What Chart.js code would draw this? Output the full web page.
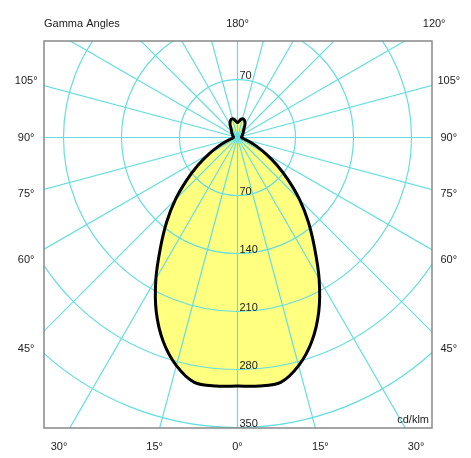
<!DOCTYPE html>
<html lang="en">
<head>
    <meta charset="UTF-8">
    <title>Gamma Angles - Polar Intensity Diagram</title>
    <script src="https://cdn.jsdelivr.net/npm/chart.js"></script>
    <style>
        body {
            margin: 0;
            background: #ffffff;
        }

        .chart-container {
            position: relative;
            width: 471px;
            height: 458px;
        }
    </style>
</head>
<body>
    <div class="chart-container">
        <canvas id="polarChart"></canvas>
    </div>

    <script>
        // luminous intensity (cd/klm) per gamma angle
        const gammaAngles = [0, 5, 10, 15, 20, 25, 30, 35, 40, 45, 50, 55, 60, 65, 70, 75, 80, 85, 90,
                             95, 100, 105, 110, 115, 120, 125, 130, 135, 140, 145, 150, 155, 160, 165, 170, 175, 180];
        const intensities = [300, 301, 300, 285, 262, 232, 197, 162, 133, 106, 80, 58, 40, 26, 16, 10, 7, 5.5, 5,
                             5, 5, 5.5, 6, 6.5, 7, 8, 9, 10, 11.5, 14, 18, 21, 23, 23.5, 22, 19.5, 18];

        const ringValues = [70, 140, 210, 280, 350];
        const sideAngleLabels = [45, 60, 75, 90, 105];
        const bottomAngleLabels = [-30, -15, 0, 15, 30];
        const topAngleLabels = [180, 120];
        const spokeStep = 15;

        const gridColor = '#66dede';
        const textColor = '#222';
        const labelFont = '11px "Liberation Sans", Arial, sans-serif';

        // gamma 0 points straight down, side -1 = left half, 1 = right half
        function toXY(gamma, r, side) {
            const a = gamma * Math.PI / 180;
            return { x: side * r * Math.sin(a), y: -r * Math.cos(a) };
        }

        const outline = [];
        gammaAngles.forEach((g, i) => outline.push(toXY(g, intensities[i], -1)));
        for (let i = gammaAngles.length - 2; i >= 0; i--) {
            outline.push(toXY(gammaAngles[i], intensities[i], 1));
        }

        const gridPlugin = {
            id: 'photometricGrid',
            beforeDatasetDraw(chart, args) {
                if (args.index !== 0) return;
                const { ctx, chartArea, scales: { x, y } } = chart;
                const cx = x.getPixelForValue(0);
                const cy = y.getPixelForValue(0);

                ctx.save();
                ctx.beginPath();
                ctx.rect(chartArea.left, chartArea.top, chartArea.width, chartArea.height);
                ctx.clip();
                ctx.strokeStyle = gridColor;
                ctx.lineWidth = 1.2;

                ringValues.forEach(v => {
                    ctx.beginPath();
                    ctx.ellipse(cx, cy, x.getPixelForValue(v) - cx, cy - y.getPixelForValue(v), 0, 0, Math.PI * 2);
                    ctx.stroke();
                });

                for (let g = 0; g < 360; g += spokeStep) {
                    const p = toXY(g, 1000, 1);
                    ctx.beginPath();
                    ctx.moveTo(cx, cy);
                    ctx.lineTo(x.getPixelForValue(p.x), y.getPixelForValue(p.y));
                    ctx.stroke();
                }
                ctx.restore();
            },
            afterDatasetsDraw(chart) {
                const { ctx, chartArea, scales: { x, y } } = chart;
                const cx = x.getPixelForValue(0);

                ctx.save();
                // frame
                ctx.strokeStyle = '#888';
                ctx.lineWidth = 1.5;
                ctx.strokeRect(chartArea.left, chartArea.top, chartArea.width, chartArea.height);

                ctx.fillStyle = textColor;
                ctx.font = labelFont;

                // intensity ring values along the vertical axis
                ctx.textAlign = 'left';
                ctx.textBaseline = 'alphabetic';
                ringValues.forEach(v => {
                    ctx.fillText(String(v), cx + 2, y.getPixelForValue(-v) - 0.5);
                    const topY = y.getPixelForValue(v);
                    if (topY - 12 > chartArea.top) ctx.fillText(String(v), cx + 2, topY - 0.5);
                });

                // gamma labels where the spokes run out past the frame
                ctx.textAlign = 'center';
                ctx.textBaseline = 'middle';
                const sideX = 255, bottomY = -373, topY = 137;
                sideAngleLabels.forEach(g => {
                    const t = Math.tan(g * Math.PI / 180);
                    const yy = y.getPixelForValue(-sideX / t);
                    ctx.fillText(g + '°', x.getPixelForValue(-sideX), yy);
                    ctx.fillText(g + '°', x.getPixelForValue(sideX), yy);
                });
                bottomAngleLabels.forEach(g => {
                    const xx = x.getPixelForValue(-bottomY * Math.tan(g * Math.PI / 180));
                    ctx.fillText(Math.abs(g) + '°', xx, y.getPixelForValue(bottomY));
                });
                topAngleLabels.forEach(g => {
                    const xx = x.getPixelForValue(topY * Math.tan((180 - g) * Math.PI / 180));
                    ctx.fillText(g + '°', xx, y.getPixelForValue(topY));
                });

                ctx.textAlign = 'left';
                ctx.fillText('Gamma Angles', chartArea.left, y.getPixelForValue(topY));

                ctx.textAlign = 'right';
                ctx.textBaseline = 'bottom';
                ctx.fillText('cd/klm', chartArea.right - 3, chartArea.bottom - 3);
                ctx.restore();
            }
        };

        const ctx = document.getElementById('polarChart').getContext('2d');

        new Chart(ctx, {
            type: 'scatter',
            data: {
                datasets: [
                    {
                        label: 'outline',
                        data: outline,
                        showLine: true,
                        borderColor: '#000',
                        borderWidth: 3,
                        tension: 0.3,
                        fill: false,
                        pointRadius: 0
                    },
                    {
                        label: 'area',
                        data: outline,
                        showLine: true,
                        borderWidth: 0,
                        borderColor: 'rgba(0,0,0,0)',
                        backgroundColor: '#ffff80',
                        tension: 0.3,
                        fill: 'shape',
                        pointRadius: 0
                    }
                ]
            },
            options: {
                responsive: true,
                maintainAspectRatio: false,
                animation: false,
                layout: {
                    padding: { left: 44, top: 41, right: 39, bottom: 30 }
                },
                plugins: {
                    legend: { display: false },
                    tooltip: { enabled: false }
                },
                scales: {
                    x: { type: 'linear', min: -233.5, max: 234.7, display: false },
                    y: { type: 'linear', min: -350.6, max: 116.5, display: false }
                }
            },
            plugins: [gridPlugin]
        });
    </script>
</body>
</html>
